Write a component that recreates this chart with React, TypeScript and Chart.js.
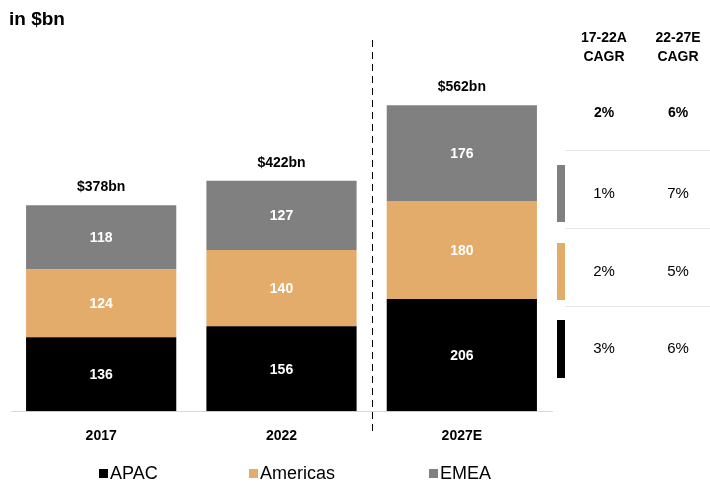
import React, { useEffect, useRef } from "react";
import { Chart, registerables } from "chart.js";

Chart.register(...registerables);

const categories = ["2017", "2022", "2027E"];
const apacValues = [136, 156, 206];
const americasValues = [124, 140, 180];
const emeaValues = [118, 127, 176];
const totalLabels = ["$378bn", "$422bn", "$562bn"];
const seriesNames = ["APAC", "Americas", "EMEA"];
const seriesColors = ["#000000", "#E3AC6B", "#808080"];
const cagrHeaders = ["17-22A", "22-27E"];
const cagrTotal = ["2%", "6%"];
const cagrApac = ["3%", "6%"];
const cagrAmericas = ["2%", "5%"];
const cagrEmea = ["1%", "7%"];

const FONT = '"Liberation Sans Narrow", "Arial Narrow", "Liberation Sans", Arial, sans-serif';
const FONT_WIDE = '"Liberation Sans", Arial, sans-serif';

const overlayPlugin = {
  id: "overlay",
  afterDatasetsDraw(chart: any) {
    const ctx = chart.ctx;
    const x = chart.scales.x;
    ctx.save();
    // segment labels
    chart.data.datasets.forEach((ds: any, di: number) => {
      const meta = chart.getDatasetMeta(di);
      meta.data.forEach((bar: any, i: number) => {
        const { x: bx, y: by, base } = bar.getProps(["x", "y", "base"], true);
        ctx.fillStyle = "#ffffff";
        ctx.font = `bold 14px ${FONT}`;
        ctx.textAlign = "center";
        ctx.textBaseline = "middle";
        ctx.fillText(String(ds.data[i]), bx, (by + base) / 2 + 1);
      });
    });
    // totals
    const lastMeta = chart.getDatasetMeta(chart.data.datasets.length - 1);
    lastMeta.data.forEach((bar: any, i: number) => {
      ctx.fillStyle = "#000000";
      ctx.font = `bold 14px ${FONT}`;
      ctx.textAlign = "center";
      ctx.textBaseline = "middle";
      ctx.fillText(totalLabels[i], bar.x, bar.y - 18);
    });
    // dashed divider between actual and estimate
    const dx = Math.round(x.getPixelForValue(1.5)) + 0.5;
    ctx.strokeStyle = "#000000";
    ctx.lineWidth = 1;
    ctx.setLineDash([7, 5]);
    ctx.beginPath();
    ctx.moveTo(dx, 40);
    ctx.lineTo(dx, 436);
    ctx.stroke();
    ctx.setLineDash([]);

    // title
    ctx.fillStyle = "#000000";
    ctx.font = `bold 19px ${FONT_WIDE}`;
    ctx.textAlign = "left";
    ctx.textBaseline = "middle";
    ctx.fillText("in $bn", 9, 20);

    // CAGR table
    const colX = [604, 678];
    ctx.textAlign = "center";
    ctx.font = `bold 14px ${FONT}`;
    cagrHeaders.forEach((h, c) => {
      ctx.fillText(h, colX[c], 38);
      ctx.fillText("CAGR", colX[c], 57);
      ctx.fillText(cagrTotal[c], colX[c], 113);
    });
    ctx.strokeStyle = "#e6e6e6";
    ctx.lineWidth = 1;
    [150, 228, 306].forEach((ly) => {
      ctx.beginPath();
      ctx.moveTo(565, ly + 0.5);
      ctx.lineTo(710, ly + 0.5);
      ctx.stroke();
    });
    const rows = [
      { vals: cagrEmea, color: seriesColors[2], top: 165, bottom: 222 },
      { vals: cagrAmericas, color: seriesColors[1], top: 243, bottom: 300 },
      { vals: cagrApac, color: seriesColors[0], top: 320, bottom: 378 },
    ];
    rows.forEach((r) => {
      ctx.fillStyle = r.color;
      ctx.fillRect(557, r.top, 8, r.bottom - r.top);
      ctx.fillStyle = "#000000";
      ctx.font = `15px ${FONT}`;
      const cy = (r.top + r.bottom) / 2;
      r.vals.forEach((v, c) => ctx.fillText(v, colX[c], cy));
    });

    // legend
    const legendX = [99, 249, 429];
    ctx.textAlign = "left";
    ctx.font = `18px ${FONT}`;
    chart.data.datasets.forEach((ds: any, di: number) => {
      ctx.fillStyle = ds.backgroundColor;
      ctx.fillRect(legendX[di], 469, 9, 9);
      ctx.fillStyle = "#000000";
      ctx.fillText(ds.label, legendX[di] + 11, 474);
    });
    ctx.restore();
  },
};

export default function App() {
  const canvasRef = useRef<HTMLCanvasElement | null>(null);
  useEffect(() => {
    if (!canvasRef.current) return;
    const chart = new Chart(canvasRef.current, {
      type: "bar",
      data: {
        labels: categories,
        datasets: [
          { label: seriesNames[0], data: apacValues, backgroundColor: seriesColors[0] },
          { label: seriesNames[1], data: americasValues, backgroundColor: seriesColors[1] },
          { label: seriesNames[2], data: emeaValues, backgroundColor: seriesColors[2] },
        ],
      },
      options: {
        responsive: false,
        animation: false,
        layout: { padding: { left: 11, right: 158, top: 30, bottom: 27 } },
        plugins: { legend: { display: false }, tooltip: { enabled: false } },
        datasets: { bar: { barPercentage: 0.833, categoryPercentage: 1 } } as any,
        scales: {
          x: {
            stacked: true,
            grid: { display: false, drawTicks: false },
            border: { display: true, color: "#d9d9d9", width: 1 },
            ticks: { color: "#000", font: { family: FONT, size: 14, weight: "bold" }, padding: 17 },
          },
          y: {
            stacked: true,
            display: false,
            min: 0,
            max: 700,
          },
        },
      },
      plugins: [overlayPlugin],
    });
    return () => chart.destroy();
  }, []);
  return (
    <div style={{ position: "fixed", left: 0, top: 0, width: 710, height: 489, background: "#fff" }}>
      <canvas ref={canvasRef} width={710} height={489} />
    </div>
  );
}
